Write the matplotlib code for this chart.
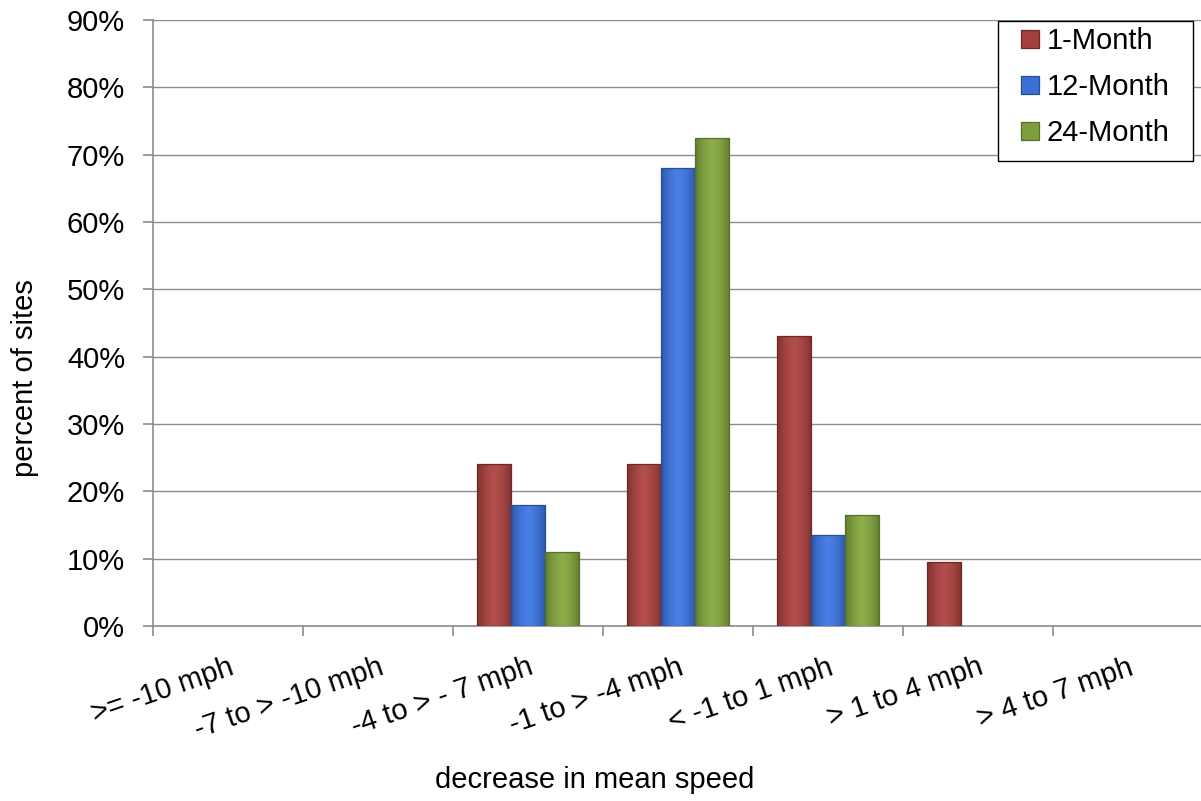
import matplotlib
matplotlib.use("Agg")
import matplotlib.pyplot as plt
import numpy as np
from matplotlib.ticker import MultipleLocator, FixedLocator, PercentFormatter
from matplotlib.patches import Rectangle, Patch
from matplotlib.colors import to_rgb

plt.rcParams['font.family'] = ['Liberation Sans', 'DejaVu Sans']

categories = [">= -10 mph", "-7 to > -10 mph", "-4 to > - 7 mph", "-1 to > -4 mph",
              "< -1 to 1 mph", "> 1 to 4 mph", "> 4 to 7 mph"]
series_names = ["1-Month", "12-Month", "24-Month"]
one_month = [0, 0, 24, 24, 43, 9.5, 0]
twelve_month = [0, 0, 18, 68, 13.5, 0, 0]
twentyfour_month = [0, 0, 11, 72.5, 16.5, 0, 0]
colors = ["#A3403E", "#3A70D6", "#7E9E3C"]
edges = ["#6E2826", "#264C9A", "#55702A"]

W, H = 1201, 801
fig = plt.figure(figsize=(W / 100, H / 100), dpi=100)
ax = fig.add_axes([153 / W, 175 / H, 1050 / W, 606 / H])

x = np.arange(len(categories)) + 0.5
w = 0.227
for i, (vals, c, e, name) in enumerate(zip([one_month, twelve_month, twentyfour_month],
                                            colors, edges, series_names)):
    bars = ax.bar(x + (i - 1) * w, vals, width=w, color=c, edgecolor=e, linewidth=0.9,
                  zorder=3)
    # bevel-like shading: darker sides, lighter centre
    base = np.array(to_rgb(c))
    t = np.linspace(-1, 1, 64)
    shade = 1.0 - 0.22 * np.abs(t) ** 2
    grad = np.clip(base[None, :] * shade[:, None] + 0.06 * (1 - np.abs(t))[:, None], 0, 1)
    img = grad[None, :, :]
    for b in bars:
        if b.get_height() <= 0:
            b.set_visible(False)
            continue
        x0, y0 = b.get_x(), b.get_y()
        im = ax.imshow(img, extent=(x0, x0 + b.get_width(), y0, y0 + b.get_height()),
                       aspect='auto', zorder=3.5, interpolation='bilinear')
        im.set_clip_path(b)
        b.set_zorder(3.6)
        b.set_facecolor('none')

ax.set_xlim(0, len(categories))
ax.set_ylim(0, 90)
ax.yaxis.set_major_locator(MultipleLocator(10))
ax.yaxis.set_major_formatter(PercentFormatter(decimals=0))
ax.grid(axis='y', color='#8C8C8C', linewidth=1.0, zorder=0)

ax.xaxis.set_major_locator(FixedLocator(np.arange(len(categories) + 1)))
ax.xaxis.set_major_formatter(plt.NullFormatter())
ax.xaxis.set_minor_locator(FixedLocator(x))
ax.set_xticklabels(categories, minor=True)
ax.tick_params(axis='x', which='minor', length=0, pad=19.5, labelsize=21)
ax.tick_params(axis='x', which='major', length=7, color='#8C8C8C', width=1.2)
ax.tick_params(axis='y', length=7, color='#8C8C8C', width=1.2, labelsize=21, pad=13)
for lab in ax.get_xticklabels(minor=True):
    lab.set_rotation(19)
    lab.set_ha('right')
    lab.set_va('top')
    lab.set_rotation_mode('anchor')

for s in ['top', 'right']:
    ax.spines[s].set_visible(False)
for s in ['left', 'bottom']:
    ax.spines[s].set_color('#8C8C8C')
    ax.spines[s].set_linewidth(1.2)

ax.set_ylabel("percent of sites", fontsize=21, va='center')
ax.yaxis.set_label_coords((25 - 153) / 1050, (626 - 378) / 606)
ax.set_xlabel("decrease in mean speed", fontsize=21, va='center')
ax.xaxis.set_label_coords((595 - 153) / 1050, (626 - 780) / 606)

# legend: frame drawn as a rectangle in figure pixels, entries placed inside
frame = Rectangle((998 / W, 1 - 161 / H), 195 / W, 140 / H, transform=fig.transFigure,
                  facecolor='white', edgecolor='black', linewidth=1.0, zorder=4)
fig.patches.append(frame)
handles = [Patch(facecolor=c, edgecolor=e, linewidth=0.9) for c, e in zip(colors, edges)]
leg = fig.legend(handles, series_names, loc='upper left',
                 bbox_to_anchor=(1021 / W, 1 - 27 / H),
                 fontsize=21, frameon=False,
                 handlelength=0.62, handleheight=0.58, handletextpad=0.25,
                 labelspacing=0.62, borderpad=0, borderaxespad=0)
leg.set_zorder(5)

fig.savefig("out.png", dpi=100)
